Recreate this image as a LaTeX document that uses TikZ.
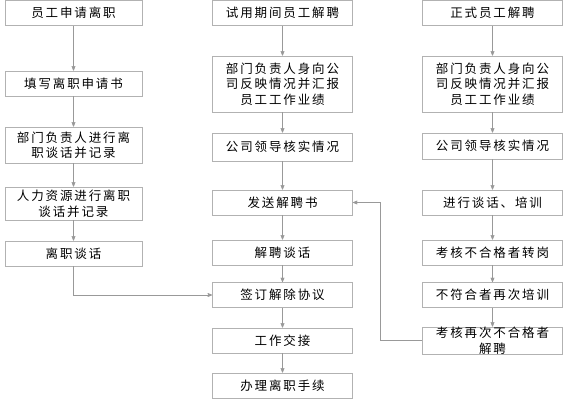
\documentclass[tikz,border=0pt]{standalone}
\usepackage{fontspec}
\newfontfamily\cjk[LetterSpace=15]{Noto Sans CJK SC}
\usetikzlibrary{arrows}

\begin{document}
\begin{tikzpicture}[x=1pt, y=-1pt, ->, >=stealth', line width=0.7pt,
                    draw=gray!80, style={minimum size=5mm}]
\tikzstyle{every node}=[font=\cjk\fontsize{12.5}{15.5}\selectfont]
\tikzstyle{stepbox}=[draw=gray!60, line width=0.8pt, rectangle, align=center,
                     minimum width=140pt, minimum height=25pt, inner ysep=1pt]
\useasboundingbox (0,0) rectangle (565,400);

% left column
\node [stepbox, minimum width=137pt] (a1) at (73.5,13) {员工申请离职};
\node [stepbox, minimum width=137pt] (a2) at (73.5,83.5) {填写离职申请书};
\node [stepbox, minimum width=137pt, minimum height=36pt] (a3) at (73.5,145) {部门负责人进行离\\职谈话并记录};
\node [stepbox, minimum width=137pt, minimum height=33pt] (a4) at (73.5,203.5) {人力资源进行离职\\谈话并记录};
\node [stepbox, minimum width=137pt] (a5) at (73.5,253.5) {离职谈话};

% middle column
\node [stepbox] (b1) at (282.5,13) {试用期间员工解聘};
\node [stepbox, minimum height=56pt] (b2) at (282.5,84) {部门负责人身向公\\司反映情况并汇报\\员工工作业绩};
\node [stepbox, minimum height=28pt] (b3) at (282.5,147) {公司领导核实情况};
\node [stepbox] (b4) at (282.5,202.5) {发送解聘书};
\node [stepbox] (b5) at (282.5,252.5) {解聘谈话};
\node [stepbox] (b6) at (282.5,295) {签订解除协议};
\node [stepbox] (b7) at (282.5,340.5) {工作交接};
\node [stepbox] (b8) at (282.5,385.5) {办理离职手续};

% right column
\node [stepbox] (c1) at (492.5,13) {正式员工解聘};
\node [stepbox, minimum height=56pt] (c2) at (492.5,84) {部门负责人身向公\\司反映情况并汇报\\员工工作业绩};
\node [stepbox, minimum height=26pt] (c3) at (492.5,146) {公司领导核实情况};
\node [stepbox] (c4) at (492.5,202.5) {进行谈话、培训};
\node [stepbox] (c5) at (492.5,252.5) {考核不合格者转岗};
\node [stepbox] (c6) at (492.5,295) {不符合者再次培训};
\node [stepbox, inner ysep=0pt] (c7) at (492.5,340.5) {考核再次不合格者\\解聘};

\foreach \u/\v in {a1/a2, a2/a3, a3/a4, a4/a5,
                   b1/b2, b2/b3, b3/b4, b4/b5, b5/b6, b6/b7, b7/b8,
                   c1/c2, c2/c3, c3/c4, c4/c5, c5/c6, c6/c7}
  \draw (\u) -- (\v);

\draw (a5.south) |- (b6.west);
\draw (c7.west) -- (380,340.5) |- (b4.east);
\end{tikzpicture}
\end{document}
